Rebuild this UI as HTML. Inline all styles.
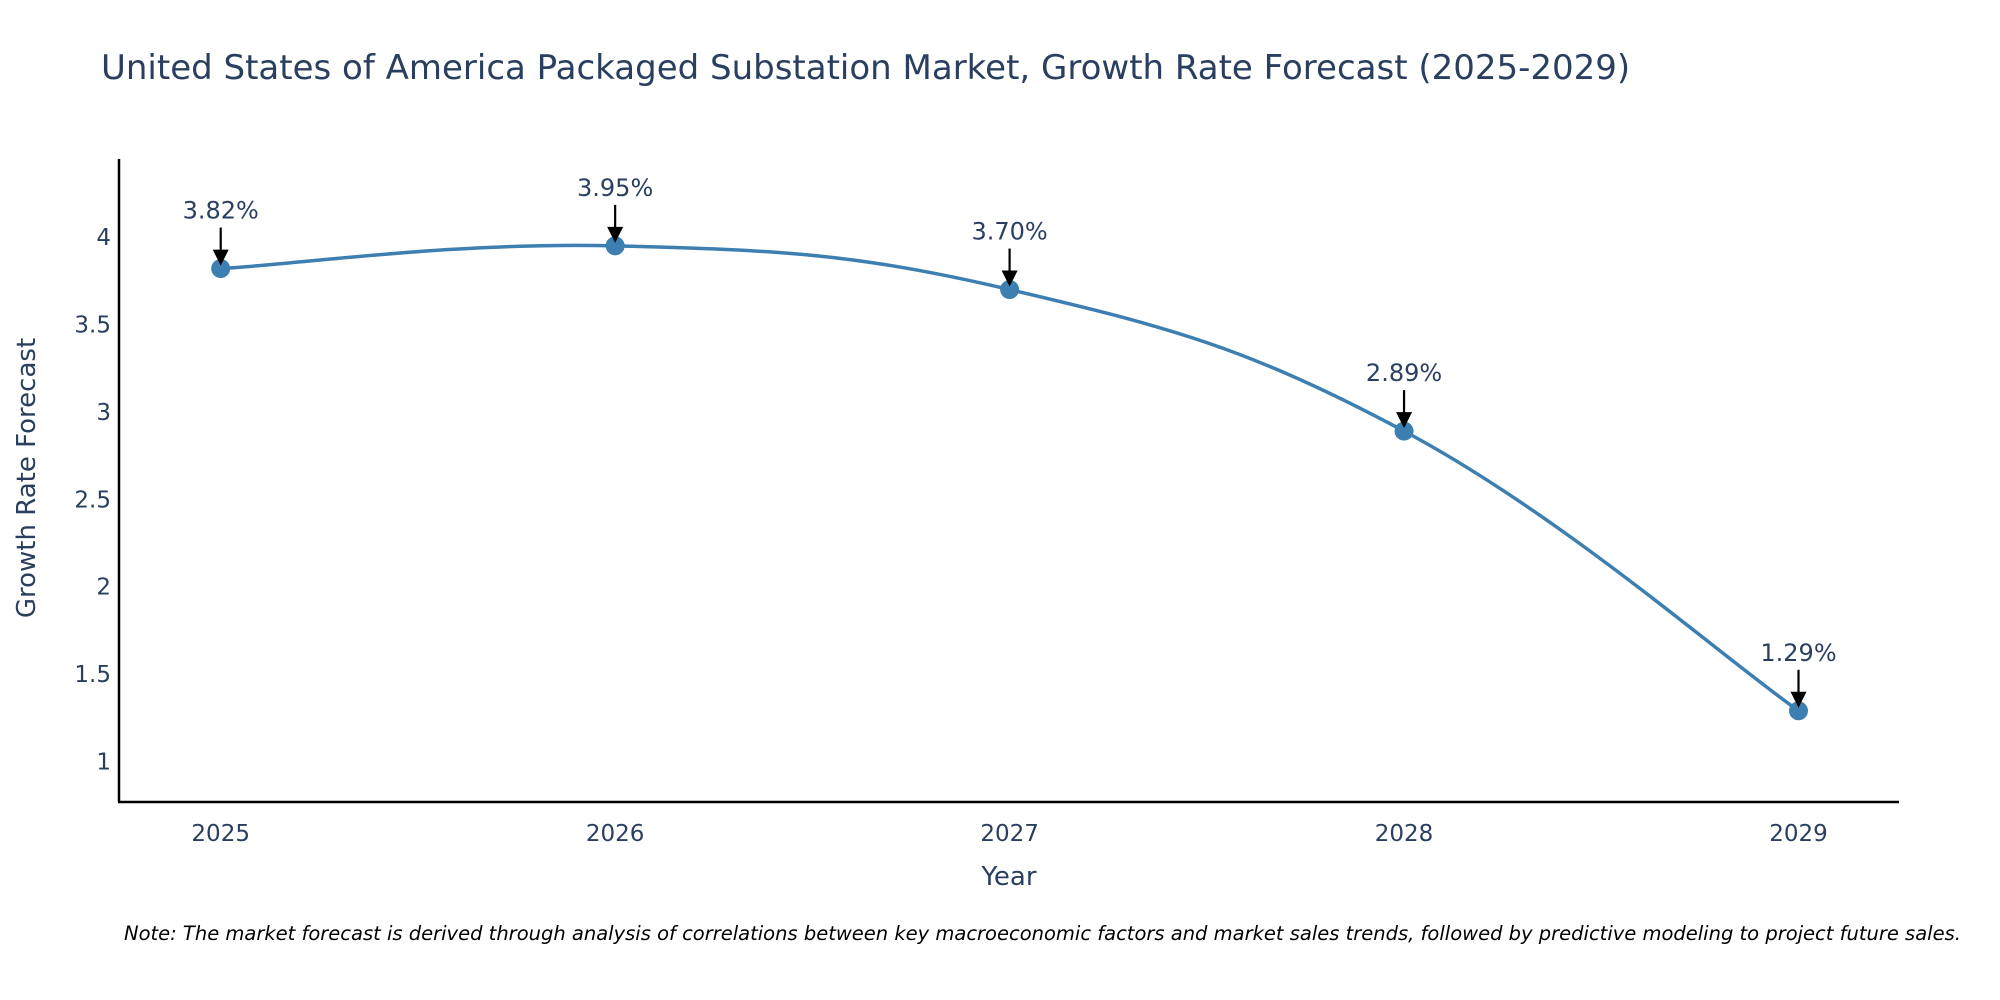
<!DOCTYPE html>
<html><head><meta charset="utf-8"><style>
html,body{margin:0;padding:0;background:#fff;}
svg{display:block;font-family:"DejaVu Sans","Liberation Sans",sans-serif;}
</style></head><body>
<svg id="chart" width="2000" height="1000" viewBox="0 0 2000 1000">
<text x="101" y="79" font-size="34" fill="#2a3f5f">United States of America Packaged Substation Market, Growth Rate Forecast (2025-2029)</text>
<g id="yticks"></g>
<g id="xticks"></g>
<line x1="119" y1="159" x2="119" y2="802" stroke="#000" stroke-width="2.5"/>
<line x1="118" y1="802" x2="1899" y2="802" stroke="#000" stroke-width="2.5"/>
<g id="series"></g>
<text x="1009" y="885" font-size="26" fill="#2a3f5f" text-anchor="middle">Year</text>
<text transform="translate(35,478) rotate(-90)" font-size="26" fill="#2a3f5f" text-anchor="middle">Growth Rate Forecast</text>
<text x="124" y="940" font-size="19.5" font-style="italic" fill="#000">Note: The market forecast is derived through analysis of correlations between key macroeconomic factors and market sales trends, followed by predictive modeling to project future sales.</text>
</svg>
<script>
const years = [2025, 2026, 2027, 2028, 2029];
const growth = [3.82, 3.95, 3.70, 2.89, 1.29];
const yTickValues = [1, 1.5, 2, 2.5, 3, 3.5, 4];
const yTickLabels = ["1", "1.5", "2", "2.5", "3", "3.5", "4"];

const NS = "http://www.w3.org/2000/svg";
function xS(v){ return 220.7 + (v - 2025) * (1798.5 - 220.7) / 4; }
function yS(v){ return 761.5 - (v - 1) * 174.8; }
function mk(tag, attrs, parent){ const e = document.createElementNS(NS, tag); for (const k in attrs) e.setAttribute(k, attrs[k]); parent.appendChild(e); return e; }

const yt = document.getElementById('yticks');
yTickValues.forEach((v, i) => {
  const t = mk('text', {x: 111, y: yS(v) + 8, 'font-size': 23, fill: '#2a3f5f', 'text-anchor': 'end'}, yt);
  
  
  t.textContent = yTickLabels[i];
});
const xt = document.getElementById('xticks');
years.forEach(y => {
  const t = mk('text', {x: xS(y), y: 841, 'font-size': 23, fill: '#2a3f5f', 'text-anchor': 'middle'}, xt);
  
  
  t.textContent = String(y);
});

const g = document.getElementById('series');
const pts = years.map((y, i) => [xS(y), yS(growth[i])]);
let d = `M${pts[0][0]},${pts[0][1]}`;
const s = 0.2;
for (let i = 0; i < pts.length - 1; i++) {
  const p0 = pts[Math.max(0, i - 1)], p1 = pts[i], p2 = pts[i + 1], p3 = pts[Math.min(pts.length - 1, i + 2)];
  const c1 = [p1[0] + (p2[0] - p0[0]) * s, p1[1] + (p2[1] - p0[1]) * s];
  const c2 = [p2[0] - (p3[0] - p1[0]) * s, p2[1] - (p3[1] - p1[1]) * s];
  d += ` C${c1[0]},${c1[1]} ${c2[0]},${c2[1]} ${p2[0]},${p2[1]}`;
}
const line = mk('path', {d: d, fill: 'none', stroke: '#3d7fb0', 'stroke-width': 3.5}, g);



pts.forEach((p, i) => {
  const c = mk('circle', {cx: p[0], cy: p[1], r: 9.5, fill: '#3d7fb0'}, g);
  
  
  const a = mk('line', {x1: p[0], y1: p[1] - 41, x2: p[0], y2: p[1] - 16, stroke: '#000', 'stroke-width': 2.2}, g);
  
  
  const h = mk('polygon', {points: `${p[0]-8},${p[1]-19} ${p[0]+8},${p[1]-19} ${p[0]},${p[1]-3}`, fill: '#000'}, g);
  
  
  const t = mk('text', {x: p[0], y: p[1] - 50, 'font-size': 24, fill: '#2a3f5f', 'text-anchor': 'middle'}, g);
  
  
  t.textContent = growth[i].toFixed(2) + '%';
});
</script>
</body></html>
